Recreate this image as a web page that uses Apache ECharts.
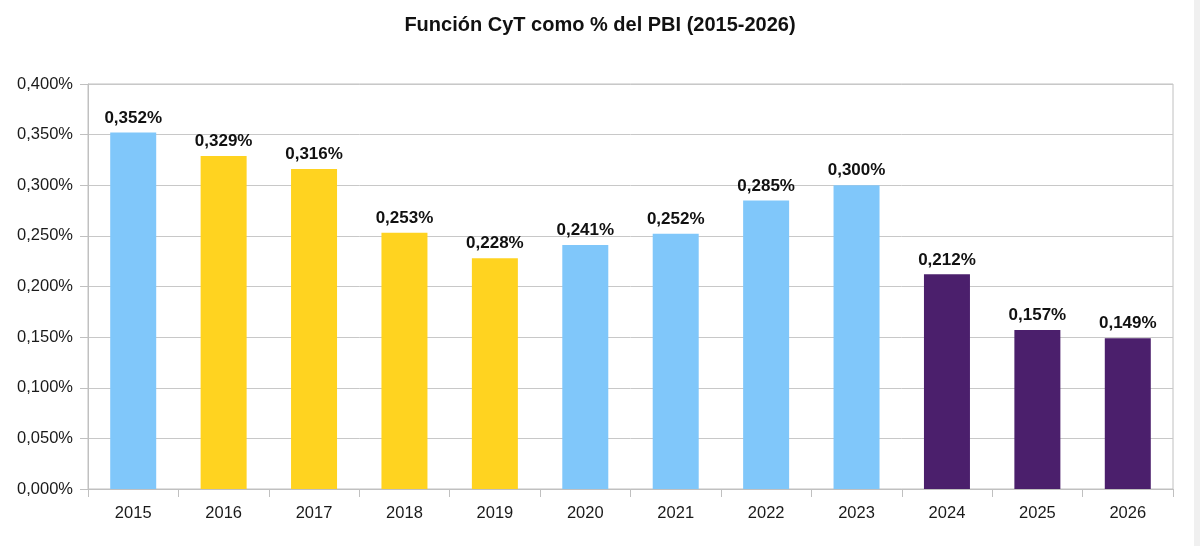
<!DOCTYPE html>
<html>
<head>
<meta charset="utf-8">
<script src="https://cdn.jsdelivr.net/npm/echarts@6/dist/echarts.min.js"></script>
<style>
  html, body { margin: 0; padding: 0; background: #ffffff; }
  #chart { width: 1200px; height: 546px; }
</style>
</head>
<body>
<div id="chart"></div>
<script>
// datos
const anios = ['2015', '2016', '2017', '2018', '2019', '2020', '2021', '2022', '2023', '2024', '2025', '2026'];
const valores = [0.352, 0.329, 0.316, 0.253, 0.228, 0.241, 0.252, 0.285, 0.300, 0.212, 0.157, 0.149];
const grupos = ['A', 'B', 'B', 'B', 'B', 'A', 'A', 'A', 'A', 'C', 'C', 'C'];
const ejeY = [0, 0.05, 0.10, 0.15, 0.20, 0.25, 0.30, 0.35, 0.40];

const colores = { A: '#80c7fa', B: '#ffd320', C: '#4b1f6c' };

function fmt(v) {
  return v.toFixed(3).replace('.', ',') + '%';
}

const chart = echarts.init(document.getElementById('chart'));

const option = {
  backgroundColor: '#ffffff',
  animation: false,
  title: {
    text: 'Función CyT como % del PBI (2015-2026)',
    left: 595,
    textAlign: 'center',
    top: 10,
    textStyle: {
      fontFamily: 'Liberation Sans',
      fontSize: 20,
      fontWeight: 'bold',
      color: '#111111'
    }
  },
  grid: {
    left: 88,
    right: 27,
    top: 84,
    bottom: 57,
    show: true,
    borderColor: '#c0c0c0',
    borderWidth: 1
  },
  xAxis: {
    type: 'category',
    data: anios,
    axisLine: { lineStyle: { color: '#c0c0c0' } },
    axisTick: { show: true, length: 8, lineStyle: { color: '#c0c0c0' } },
    axisLabel: {
      margin: 16,
      fontFamily: 'Liberation Sans',
      fontSize: 16.5,
      color: '#1a1a1a'
    }
  },
  yAxis: {
    type: 'value',
    min: ejeY[0],
    max: ejeY[ejeY.length - 1],
    interval: 0.05,
    axisLine: { show: true, lineStyle: { color: '#c0c0c0' } },
    axisTick: { show: true, length: 8, lineStyle: { color: '#c0c0c0' } },
    splitLine: { lineStyle: { color: '#c8c8c8' } },
    axisLabel: {
      margin: 15,
      fontFamily: 'Liberation Sans',
      fontSize: 16.5,
      color: '#1a1a1a',
      formatter: fmt
    }
  },
  series: [{
    type: 'bar',
    barWidth: 46,
    data: valores.map((v, i) => ({
      value: v,
      itemStyle: { color: colores[grupos[i]] }
    })),
    label: {
      show: true,
      position: 'top',
      distance: 6,
      fontFamily: 'Liberation Sans',
      fontSize: 17,
      fontWeight: 'bold',
      color: '#111111',
      formatter: p => fmt(p.value)
    }
  }],
  graphic: [{
    type: 'rect',
    shape: { x: 1194, y: 0, width: 6, height: 546 },
    style: { fill: '#f0f0f0' },
    silent: true
  }]
};

chart.setOption(option);
</script>
</body>
</html>
